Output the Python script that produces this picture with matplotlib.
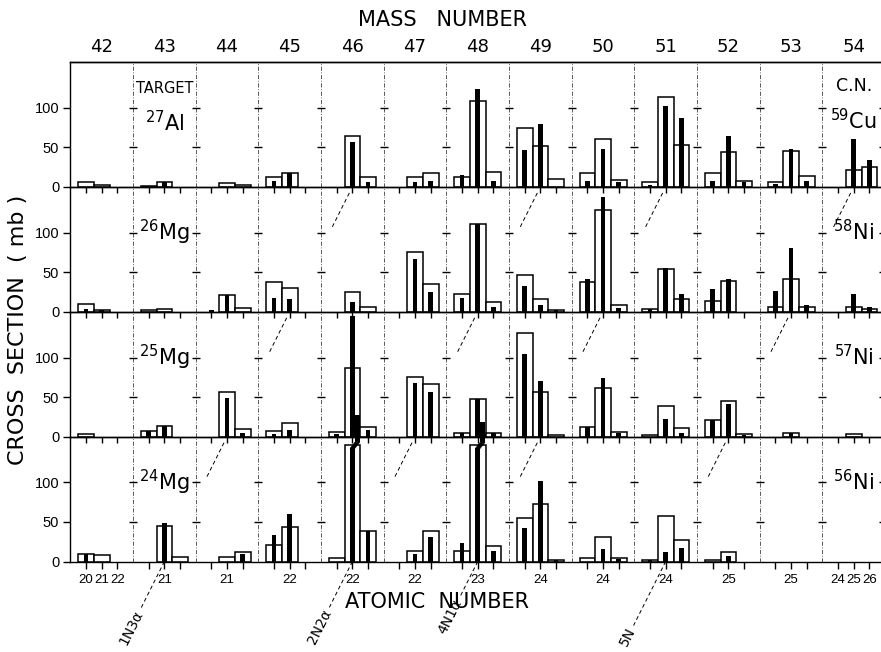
import math

import matplotlib.pyplot as plt
from matplotlib import font_manager
from matplotlib.patches import Polygon

plt.rcParams["font.family"] = ["DejaVu Sans"]
plt.rcParams["mathtext.default"] = "regular"

_installed = {f.name for f in font_manager.fontManager.ttflist}
NARROW = "Liberation Sans Narrow" if "Liberation Sans Narrow" in _installed else "Liberation Sans"

mass_numbers = [42, 43, 44, 45, 46, 47, 48, 49, 50, 51, 52, 53, 54]
atomic_labels = [
    ["20", "21", "22"],
    ["", "21", ""],
    ["", "21", ""],
    ["", "22", ""],
    ["", "22", ""],
    ["", "22", ""],
    ["", "23", ""],
    ["", "24", ""],
    ["", "24", ""],
    ["", "24", ""],
    ["", "25", ""],
    ["", "25", ""],
    ["24", "25", "26"],
]
targets = ["$^{27}$Al", "$^{26}$Mg", "$^{25}$Mg", "$^{24}$Mg"]
compound_nuclei = ["$^{59}$Cu", "$^{58}$Ni", "$^{57}$Ni", "$^{56}$Ni"]

# cross sections in mb, one triple (three Z values) per mass number
al27_open = [(6, 3, 0), (1.5, 6, 0), (0, 5, 2.5), (12.7, 17, 0), (0, 64, 12.7), (0, 12.7, 17),
             (13, 109, 19), (75, 52, 10.5), (17, 60, 9), (6, 114, 53), (18, 44, 8), (6, 45, 14), (0, 21, 25)]
al27_black = [(0, 0, 0), (0, 6, 0), (0, 0, 0), (8, 17, 0), (0, 57, 6), (0, 6, 7),
              (15, 124, 8), (47, 79, 0), (8, 48, 6), (3, 102, 87), (7, 64, 6), (4, 48, 8), (0, 60, 34)]

mg26_open = [(10, 2.5, 0), (2, 4, 0), (0, 21, 4.6), (38, 30, 0), (0, 24.5, 5.5), (0, 76, 35),
             (22, 110.5, 12), (47, 16, 2), (38, 129, 8.5), (4, 54, 16.5), (14, 39, 0), (5.5, 41, 6), (0, 6, 4)]
mg26_black = [(4, 2, 0), (0, 0, 0), (2.5, 21, 0), (18, 16, 0), (0, 12, 0), (0, 67, 24.5),
              (17, 110.5, 6), (32.5, 9, 2), (41, 145, 5), (3, 55, 23), (29, 41, 0), (26, 81, 8), (0, 22, 6)]

mg25_open = [(3.4, 0, 0), (6.7, 14, 0), (0, 57, 10), (6.7, 17.7, 0), (6, 87, 12.7), (0, 76, 66),
             (5, 47, 4), (131, 57, 2.5), (12.7, 62, 6), (2, 39, 10.5), (21, 45.6, 3), (0, 5, 0), (0, 3.4, 0)]
mg25_black = [(0, 0, 0), (7.6, 13.5, 0), (0, 49, 5), (3, 8.4, 0), (3, 152, 8), (0, 68, 57),
              (5, 47, 4), (104, 70, 0), (12.7, 74, 5), (0, 22, 5), (21, 41, 2), (0, 5, 0), (0, 0, 0)]

mg24_open = [(9, 7.6, 0), (0, 45, 5.5), (0, 5.5, 12), (21.5, 43.5, 0), (4, 148, 38.4), (0, 13, 39),
             (13, 148, 20), (55, 73, 2), (4.6, 31, 4), (2, 58, 26.6), (1.3, 12, 0), (0, 0, 0), (0, 0, 0)]
mg24_black = [(9, 0, 0), (0, 48.5, 0), (0, 0, 9), (34, 60, 0), (0, 185, 38.4), (0, 9, 31),
              (24, 176, 13), (43, 102, 1.5), (0, 16, 3), (1.5, 12, 17), (0, 7, 0), (0, 0, 0), (0, 0, 0)]

panel_open = [al27_open, mg26_open, mg25_open, mg24_open]
panel_black = [al27_black, mg26_black, mg25_black, mg24_black]

reaction_labels = ["1N3α", "2N2α", "4N1α", "5N"]
reaction_mass = [43, 46, 48, 51]      # mass column where each line meets the 24Mg axis
reaction_tail = [60, 58, 46, 81]      # length of the line below the axis, mb

YTOP = 158.0


def slot_x(col, slot):
    return 4 * col + slot + 1


def broken_bar(ax, x, value, w=0.3, cut=143.0, rise=8.0, shift=0.32):
    ax.bar(x, cut, w, color="black", zorder=4)
    ax.add_patch(Polygon([[x - w / 2, cut], [x + w / 2, cut], [x + w / 2 + shift, cut + rise],
                          [x - w / 2 + shift, cut + rise]], closed=True, fc="black", ec="black",
                         lw=0.5, clip_on=False, zorder=4))
    ax.bar(x + shift, value - cut - rise, w, bottom=cut + rise, color="black", clip_on=False, zorder=4)


fig = plt.figure(figsize=(8.81, 6.52), dpi=100)
left, right = 70.4 / 881, 885.0 / 881
top, bottom = 1 - 62 / 652, 1 - 561.5 / 652
ph = (top - bottom) / 4
axes = []
for k in range(4):
    ax = fig.add_axes([left, top - (k + 1) * ph, right - left, ph])
    ax.set_facecolor("none")
    axes.append(ax)
axes[3].set_zorder(2)

all_x = [slot_x(c, s) for c in range(len(mass_numbers)) for s in range(3)]
boundaries = list(range(4, 52, 4))

for k, ax in enumerate(axes):
    xs_o, vs_o = [], []
    for c, triple in enumerate(panel_open[k]):
        for s, v in enumerate(triple):
            if v > 0:
                xs_o.append(slot_x(c, s))
                vs_o.append(v)
    ax.bar(xs_o, vs_o, width=1.0, facecolor="white", edgecolor="black", linewidth=1.1, zorder=2)

    for c, triple in enumerate(panel_black[k]):
        for s, v in enumerate(triple):
            if v <= 0:
                continue
            if v > YTOP:
                broken_bar(ax, slot_x(c, s), v)
            else:
                ax.bar(slot_x(c, s), v, width=0.3, color="black", zorder=3)

    for xb in boundaries:
        ax.axvline(xb, color="black", linewidth=0.6, linestyle=(0, (5, 2, 1, 2)), alpha=0.75, zorder=1)
    bx = [xb for xb in boundaries for _ in (50, 100)]
    by = [yv for _ in boundaries for yv in (50, 100)]
    ax.plot(bx, by, linestyle="none", marker="_", markersize=6, markeredgewidth=1.0, color="black", zorder=1)
    ax.hlines([50, 100], 51.6, 52, color="black", linewidth=1.0)

    ax.set_xlim(0, 52)
    ax.set_ylim(0, YTOP)
    for sp in ax.spines.values():
        sp.set_linewidth(1.0)
    ax.set_yticks([0, 50, 100])
    ax.set_yticklabels(["0", "50", "100"], family=NARROW, fontsize=10.5)
    ax.tick_params(axis="y", direction="out", length=5, width=1.0, pad=3)
    ax.set_xticks(all_x)
    ax.tick_params(axis="x", direction="out", length=4, width=1.0)
    if k < 3:
        ax.tick_params(axis="x", labelbottom=False)

    ylab = 70 if k == 0 else 90
    ax.text(6, ylab, targets[k], ha="center", va="baseline", fontsize=15)
    ax.text(50, ylab + 3 if k == 0 else ylab, compound_nuclei[k], ha="center", va="baseline", fontsize=15)

axes[0].text(6, 125, "TARGET", ha="center", va="center", fontsize=10.5)
axes[0].text(50, 128, "C.N.", ha="center", va="center", fontsize=12.5)

sec = axes[0].secondary_xaxis("top")
sec.set_xticks([4 * c + 2 for c in range(len(mass_numbers))], labels=[str(m) for m in mass_numbers])
sec.tick_params(length=0, pad=4, labelsize=13)
sec.spines["top"].set_linewidth(1.0)

bottom_ax = axes[3]
bottom_ax.set_xticklabels([lab for triple in atomic_labels for lab in triple], family=NARROW, fontsize=9.5)
bottom_ax.tick_params(axis="x", length=5, pad=4)

# reaction lines running diagonally through the panels
angle = math.degrees(math.atan2(YTOP * 0.79, 4 * 15.67))
for label, mass, tail in zip(reaction_labels, reaction_mass, reaction_tail):
    c0 = mass_numbers.index(mass)
    for k in range(3):
        ax = axes[3 - k]
        x0 = 4 * (c0 + k) + 2
        f1, f2 = 0.68, 0.97
        ax.plot([x0 + 4 * f1, x0 + 4 * f2], [YTOP * f1, YTOP * f2], color="black", linewidth=0.7,
                linestyle=(0, (4, 3)), zorder=1)
    x0 = 4 * c0 + 2
    bottom_ax.plot([x0, x0 - 4 * tail / YTOP], [0, -tail], color="black", linewidth=0.7,
                   linestyle=(0, (4, 3)), clip_on=False)
    d = tail + 3
    bottom_ax.text(x0 - 4 * d / YTOP, -d, label, rotation=angle, rotation_mode="anchor",
                   ha="right", va="center", fontsize=10, clip_on=False)

fig.text(442 / 881, 1 - 20 / 652, "MASS   NUMBER", ha="center", va="center", fontsize=15)
fig.text(437 / 881, 1 - 602 / 652, "ATOMIC  NUMBER", ha="center", va="center", fontsize=15)
fig.text(18 / 881, 1 - 330 / 652, "CROSS  SECTION  ( mb )", rotation=90, ha="center", va="center",
         fontsize=16)

fig.savefig("out.png", dpi=100)
